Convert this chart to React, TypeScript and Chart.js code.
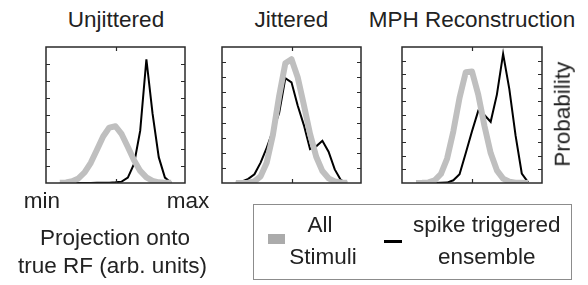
import React, { useEffect, useRef } from "react";
import { Chart, registerables } from "chart.js";
Chart.register(...registerables);

// ---- data ----
const xIndex = [0, 1, 2, 3, 4, 5, 6, 7, 8, 9, 10, 11, 12, 13, 14, 15, 16, 17, 18];
const xTickValues = [9];
const yStep = 0.01;
const panelTitles = ["Unjittered", "Jittered", "MPH Reconstruction"];
const panelYMax = [0.08, 0.09, 0.1];

const allUnjittered = [0.0001, 0.0003, 0.001, 0.0027, 0.0062, 0.0119, 0.0196, 0.0274, 0.0326, 0.0334, 0.0287, 0.0212, 0.0134, 0.0071, 0.0033, 0.0013, 0.0004, 0.0002, 0.0001];
const steUnjittered = [0, 0, 0, 0, 0, 0, 0.0001, 0.0001, 0.0002, 0.0004, 0.0008, 0.0032, 0.0112, 0.0308, 0.0728, 0.0408, 0.0152, 0.0032, 0.0002];

const allJittered = [0, 0.00003, 0.0002, 0.0011, 0.0044, 0.0136, 0.0321, 0.0576, 0.0792, 0.0819, 0.07, 0.0517, 0.0325, 0.0174, 0.0079, 0.0031, 0.001, 0.0003, 0.0001];
const steJittered = [0.0002, 0.0011, 0.0027, 0.0058, 0.0135, 0.0234, 0.0347, 0.0463, 0.0693, 0.0666, 0.0513, 0.0383, 0.0225, 0.0243, 0.0279, 0.0207, 0.009, 0.0018, 0.0002];

const allMPH = [0, 0.0001, 0.0004, 0.0019, 0.0066, 0.018, 0.038, 0.0627, 0.0815, 0.082, 0.0651, 0.042, 0.022, 0.0093, 0.0032, 0.0009, 0.0002, 0.0001, 0];
const steMPH = [0, 0, 0, 0, 0.0001, 0.0003, 0.002, 0.0064, 0.022, 0.038, 0.053, 0.05, 0.045, 0.065, 0.095, 0.069, 0.035, 0.007, 0.0007];

const xAxisLabels = ["min", "max"];
const xAxisTitle = ["Projection onto", "true RF (arb. units)"];
const yAxisTitle = "Probability";
const legendLabels = [["All", "Stimuli"], ["spike triggered", "ensemble"]];

// ---- style / layout ----
const FONT = "'Liberation Sans', Arial, Helvetica, sans-serif";
const TEXT = "#222";
const GRAY = "#bfbfbf";
const PAD = 8;
const BOX_TOP = 47;
const BOX_H = 136;
const panelBoxes = [
  { left: 46, width: 139 },
  { left: 222, width: 139 },
  { left: 402, width: 140 },
];

const boxTicksPlugin = {
  id: "boxTicks",
  afterDatasetsDraw(chart: any) {
    const { ctx, chartArea: a, scales } = chart;
    ctx.save();
    ctx.strokeStyle = "#2a2a2a";
    ctx.lineWidth = 1.5;
    ctx.strokeRect(a.left, a.top, a.right - a.left, a.bottom - a.top);
    ctx.lineWidth = 1.2;
    const ys = scales.y;
    const n = Math.round((ys.max - ys.min) / yStep);
    for (let k = 1; k < n; k++) {
      const v = ys.min + k * yStep;
      const y = Math.round(ys.getPixelForValue(v)) + 0.5;
      ctx.beginPath();
      ctx.moveTo(a.left, y);
      ctx.lineTo(a.left + 4, y);
      ctx.moveTo(a.right - 4, y);
      ctx.lineTo(a.right, y);
      ctx.stroke();
    }
    const xs = scales.x;
    xTickValues.forEach((v) => {
      const x = Math.round(xs.getPixelForValue(v)) + 0.5;
      ctx.beginPath();
      ctx.moveTo(x, a.top);
      ctx.lineTo(x, a.top + 4);
      ctx.moveTo(x, a.bottom - 4);
      ctx.lineTo(x, a.bottom);
      ctx.stroke();
    });
    ctx.restore();
  },
};

function Panel({ idx, all, ste }: { idx: number; all: number[]; ste: number[] }) {
  const ref = useRef<HTMLCanvasElement>(null);
  const box = panelBoxes[idx];
  useEffect(() => {
    if (!ref.current) return;
    const chart = new Chart(ref.current, {
      type: "line",
      data: {
        datasets: [
          {
            label: "All Stimuli",
            data: xIndex.map((x, i) => ({ x, y: all[i] })),
            borderColor: GRAY,
            borderWidth: 6,
            pointRadius: 0,
            tension: 0,
            borderJoinStyle: "round",
            borderCapStyle: "butt",
          },
          {
            label: "spike triggered ensemble",
            data: xIndex.map((x, i) => ({ x, y: ste[i] })),
            borderColor: "#000",
            borderWidth: 2,
            pointRadius: 0,
            tension: 0,
          },
        ],
      },
      options: {
        responsive: false,
        animation: false,
        layout: { padding: PAD },
        plugins: { legend: { display: false }, tooltip: { enabled: false } },
        scales: {
          x: { type: "linear", min: -2.25, max: 20.25, display: false },
          y: { type: "linear", min: 0, max: panelYMax[idx], display: false, ticks: { stepSize: yStep } },
        },
      } as any,
      plugins: [boxTicksPlugin],
    });
    return () => chart.destroy();
  }, []);
  return (
    <canvas
      ref={ref}
      width={box.width + 2 * PAD}
      height={BOX_H + 2 * PAD}
      style={{ position: "absolute", left: box.left - PAD, top: BOX_TOP - PAD, width: box.width + 2 * PAD, height: BOX_H + 2 * PAD }}
    />
  );
}

function Label({ text, cx, baseline, size = 22.5 }: { text: string; cx: number; baseline: number; size?: number }) {
  const top = baseline - 0.847 * size;
  return (
    <div
      style={{
        position: "absolute",
        left: cx - 150,
        width: 300,
        top,
        textAlign: "center",
        fontFamily: FONT,
        fontSize: size,
        lineHeight: `${size}px`,
        color: TEXT,
        whiteSpace: "nowrap",
      }}
    >
      {text}
    </div>
  );
}

export default function App() {
  const centers = panelBoxes.map((b) => b.left + b.width / 2);
  return (
    <div style={{ position: "absolute", left: 0, top: 0, width: 588, height: 285, background: "#fff", overflow: "hidden" }}>
      <Label text={panelTitles[0]} cx={centers[0] + 0.5} baseline={28} />
      <Label text={panelTitles[1]} cx={centers[1]} baseline={28} />
      <Label text={panelTitles[2]} cx={centers[2]} baseline={28} />
      <Panel idx={0} all={allUnjittered} ste={steUnjittered} />
      <Panel idx={1} all={allJittered} ste={steJittered} />
      <Panel idx={2} all={allMPH} ste={steMPH} />
      <div
        style={{
          position: "absolute",
          left: 563 - 100,
          top: 114 - 11.25,
          width: 200,
          height: 22.5,
          transform: "rotate(-90deg)",
          transformOrigin: "center center",
          textAlign: "center",
          fontFamily: FONT,
          fontSize: 22.5,
          lineHeight: "22.5px",
          color: TEXT,
          whiteSpace: "nowrap",
        }}
      >
        {yAxisTitle}
      </div>
      <Label text={xAxisLabels[0]} cx={42} baseline={209} />
      <Label text={xAxisLabels[1]} cx={188} baseline={209} />
      <Label text={xAxisTitle[0]} cx={115} baseline={246} />
      <Label text={xAxisTitle[1]} cx={112.5} baseline={274} />
      <div
        style={{
          position: "absolute",
          left: 253,
          top: 204,
          width: 319,
          height: 76,
          border: "1px solid #8c8c8c",
          boxSizing: "border-box",
        }}
      />
      <div style={{ position: "absolute", left: 268, top: 234, width: 17, height: 10, background: "#ababab" }} />
      <div style={{ position: "absolute", left: 384, top: 240, width: 18, height: 3, background: "#000" }} />
      <Label text={legendLabels[0][0]} cx={320} baseline={233} />
      <Label text={legendLabels[0][1]} cx={323} baseline={265} />
      <Label text={legendLabels[1][0]} cx={486.7} baseline={233} />
      <Label text={legendLabels[1][1]} cx={486.7} baseline={265} />
    </div>
  );
}
